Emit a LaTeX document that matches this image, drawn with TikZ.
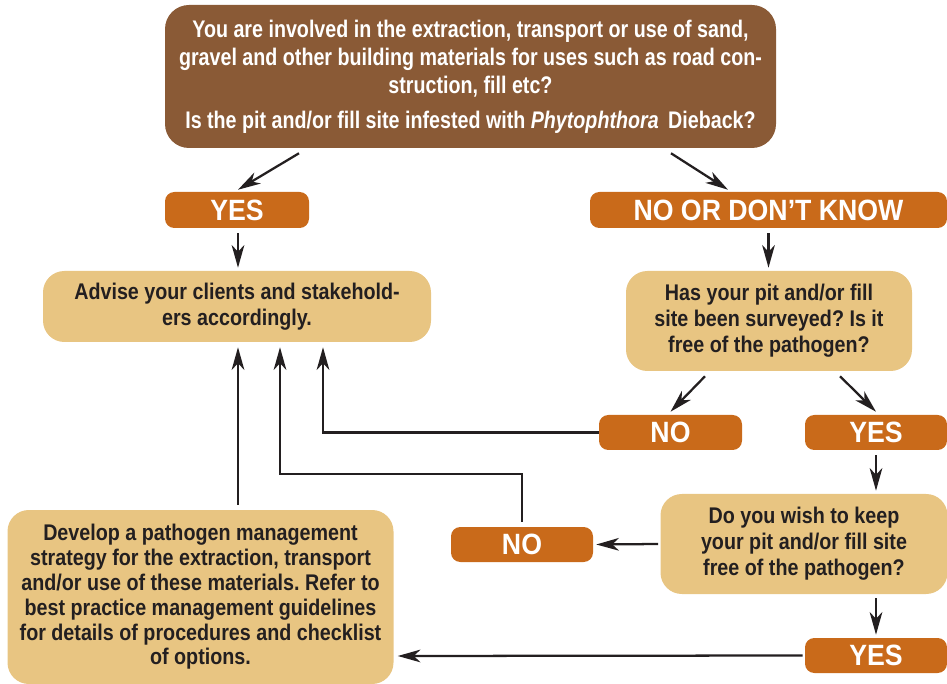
\documentclass[tikz,border=0pt]{standalone}
\usepackage{fontspec}
\setmainfont{Liberation Sans}[FakeStretch=0.87]
\newfontfamily\topfont{Liberation Sans}[FakeStretch=0.82]
\newfontfamily\labelfont{Liberation Sans}[FakeStretch=0.91]
\usepackage{xcolor}
\usepackage{tikz}
\usetikzlibrary{positioning,arrows.meta,calc}
\definecolor{pitbrown}{HTML}{8A5A36}
\definecolor{pitorange}{HTML}{C96A1A}
\definecolor{pittan}{HTML}{E8C582}
\definecolor{pitink}{HTML}{231F20}
\frenchspacing

\begin{document}
\begin{tikzpicture}[x=0.75pt, y=-0.75pt, >={Stealth[length=17pt, width=9.5pt, inset=5pt]},
  question/.style={fill=pittan, rounded corners=16pt, text=pitink, align=center, inner sep=0pt,
                   font=\bfseries\fontsize{17}{19.5}\selectfont},
  answer/.style={fill=pitorange, rounded corners=7pt, text=white, inner sep=0pt,
                 minimum width=106.5pt, minimum height=26.25pt, font=\labelfont\bfseries\fontsize{22}{22}\selectfont},
  arr/.style={->, line width=1.7pt, pitink}]
  \useasboundingbox (0,0) rectangle (947,684);

  \node[fill=pitbrown, rounded corners=18pt, text=white, align=center, inner sep=0pt,
        minimum width=458.25pt, minimum height=107.25pt, font=\topfont\bfseries\fontsize{18}{21}\selectfont]
        (top) at (470.5,76.5)
        {You are involved in the extraction, transport or use of sand,\\
         gravel and other building materials for uses such as road con-\\
         struction, fill etc?\\[5pt]
         Is the pit and/or fill site infested with \textit{Phytophthora}\, Dieback?};

  \node[answer, minimum width=108pt, minimum height=27pt] (yesA) at (237,210) {YES};
  \node[answer, minimum width=267.75pt, minimum height=27pt] (nodk) at (768.5,210) {NO OR DON’T KNOW};

  \node[question, minimum width=291pt, minimum height=53.25pt] (advise) at (237,306.5)
        {Advise your clients and stakehold-\\ers accordingly.};
  \node[question, minimum width=214.5pt, minimum height=75pt] (has) at (769,321)
        {Has your pit and/or fill\\site been surveyed? Is it\\free of the pathogen?};

  \node[answer, minimum width=107.25pt] (noA) at (670.5,432.5) {NO};
  \node[answer] (yesB) at (876,432.5) {YES};

  \node[question, minimum width=215.25pt, minimum height=75pt] (wish) at (804,544)
        {Do you wish to keep\\your pit and/or fill site\\free of the pathogen?};
  \node[answer] (noB) at (522,544.5) {NO};

  \node[question, minimum width=289.5pt, minimum height=130.5pt, font=\bfseries\fontsize{17}{18.6}\selectfont]
        (develop) at (200.5,597)
        {Develop a pathogen management\\strategy for the extraction, transport\\
         and/or use of these materials. Refer to\\best practice management guidelines\\
         for details of procedures and checklist\\of options.};
  \node[answer] (yesC) at (876,655.5) {YES};

  \draw[arr] ($(top.south)+(-171.5,5)$) -- ($(yesA.north)+(1,-2)$);
  \draw[arr] ($(top.south)+(200.5,5)$) -- ($(nodk.north)+(-40.5,-2)$);
  \draw[arr] ($(yesA.south)+(1,5)$) -- ($(advise.north)+(1,-3)$);
  \draw[arr] ($(nodk.south)+(0,5)$) -- ($(has.north)+(-0.5,-3)$);
  \draw[arr] ($(has.south)+(-64,5)$) -- ($(noA.north)+(0,-3)$);
  \draw[arr] ($(has.south)+(71,5)$) -- ($(yesB.north)+(0,-3)$);
  \draw[arr] (noA.west) -| ($(advise.south)+(86,5)$);
  \draw[arr] ($(yesB.south)+(0,5)$) -- ($(wish.north)+(72,-3)$);
  \draw[arr] ($(wish.west)+(-2,0)$) -- ($(noB.east)+(3,0)$);
  \draw[arr] ($(noB.north)+(0,-5)$) |- ($(advise.south)+(43,132)$) -- ($(advise.south)+(43,5)$);
  \draw[arr] ($(develop.north)+(37.5,-5)$) -- ($(advise.south)+(1,5)$);
  \draw[arr] ($(wish.south)+(72,4)$) -- ($(yesC.north)+(0,-3)$);
  \draw[arr] ($(yesC.west)+(-2,0)$) -- ($(develop.east)+(4,59)$);
\end{tikzpicture}
\end{document}
